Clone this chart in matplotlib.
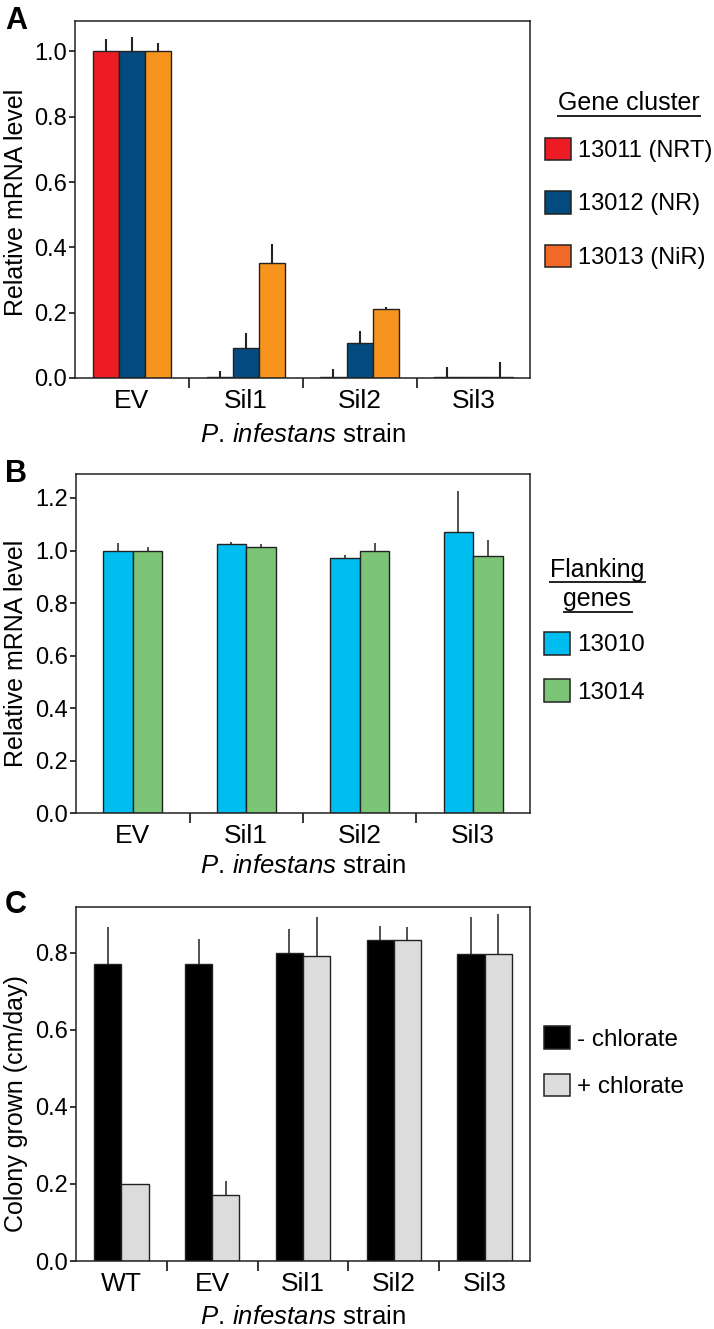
import matplotlib
matplotlib.use("Agg")
import matplotlib.pyplot as plt
import numpy as np
from matplotlib.patches import Patch
from matplotlib.lines import Line2D

plt.rcParams["font.family"] = ["Liberation Sans", "DejaVu Sans"]
plt.rcParams["mathtext.fontset"] = "custom"
plt.rcParams["mathtext.rm"] = "Liberation Sans"
plt.rcParams["mathtext.it"] = "Liberation Sans:italic"

# ---- data ----
strains_ab = ["EV", "Sil1", "Sil2", "Sil3"]
strains_c = ["WT", "EV", "Sil1", "Sil2", "Sil3"]

# panel A: gene cluster expression (value, upper error)
nrt = [1.0, 0.004, 0.004, 0.003]
nrt_err = [0.038, 0.018, 0.023, 0.032]
nr = [1.0, 0.091, 0.108, 0.002]
nr_err = [0.045, 0.046, 0.036, 0.0]
nir = [1.0, 0.353, 0.211, 0.003]
nir_err = [0.026, 0.056, 0.005, 0.045]
labels_a = ["13011 (NRT)", "13012 (NR)", "13013 (NiR)"]

# panel B: flanking genes
g13010 = [1.0, 1.025, 0.972, 1.071]
g13010_err = [0.028, 0.009, 0.010, 0.154]
g13014 = [1.0, 1.013, 0.999, 0.981]
g13014_err = [0.014, 0.010, 0.031, 0.060]
labels_b = ["13010", "13014"]

# panel C: colony growth
minus_chl = [0.770, 0.770, 0.799, 0.833, 0.796]
minus_chl_err = [0.096, 0.065, 0.062, 0.036, 0.096]
plus_chl = [0.199, 0.171, 0.791, 0.833, 0.798]
plus_chl_err = [0.0, 0.037, 0.103, 0.035, 0.102]
labels_c = ["- chlorate", "+ chlorate"]

EDGE = "#222222"
W, H = 714, 1329
fig = plt.figure(figsize=(W / 100, H / 100), dpi=100)


def px_axes(left, top, right, bottom):
    return fig.add_axes([left / W, 1 - bottom / H, (right - left) / W, (bottom - top) / H])


def style_axes(ax, labels, ylim, yticks, ylabel, ylabel_y):
    n = len(labels)
    ax.set_xlim(-0.5, n - 0.5)
    ax.set_ylim(*ylim)
    ax.set_xticks(range(n))
    ax.set_xticklabels(labels, fontsize=19)
    ax.set_xticks(np.arange(0.5, n - 1, 1), minor=True)
    ax.tick_params(axis="x", which="major", length=0, pad=8)
    ax.tick_params(axis="x", which="minor", length=7, width=1.1, direction="out")
    ax.set_yticks(yticks)
    ax.set_yticklabels([f"{v:.1f}" for v in yticks], fontsize=17)
    ax.tick_params(axis="y", length=4.5, width=1.1, pad=1.5, direction="out")
    for s in ax.spines.values():
        s.set_linewidth(1.1)
        s.set_color(EDGE)
    ax.set_ylabel(ylabel, fontsize=18)
    ax.yaxis.label.set_verticalalignment("center")
    left_px = ax.get_position().x0 * W
    width_px = ax.get_position().width * W
    ax.yaxis.set_label_coords((16 - left_px) / width_px, ylabel_y)
    ax.set_xlabel(r"$\mathit{P.\,infestans}$ strain", fontsize=18.5)
    ax.xaxis.label.set_verticalalignment("center")


def draw_bars(ax, series, errs, colors, width, elw):
    n = len(series)
    x = np.arange(len(series[0]))
    for i, (vals, err, col) in enumerate(zip(series, errs, colors)):
        pos = x + (i - (n - 1) / 2) * width
        ax.bar(pos, vals, width, color=col, edgecolor=EDGE, linewidth=1.0, zorder=2)
        ax.errorbar(pos, vals, yerr=[np.zeros(len(err)), err], fmt="none",
                    ecolor=EDGE, elinewidth=elw, capsize=0, zorder=1)


def add_legend(ax, colors, labels, left_px, top_px, fs, spacing):
    handles = [Patch(facecolor=c, edgecolor=EDGE, linewidth=1.1) for c in colors]
    fs_px = fs * 100 / 72
    leg = ax.legend(handles, labels, loc="upper left",
                    bbox_to_anchor=(left_px / W, 1 - top_px / H),
                    bbox_transform=fig.transFigure, frameon=False, fontsize=fs,
                    handlelength=26 / fs_px, handleheight=26 / fs_px,
                    handletextpad=0.3, labelspacing=spacing,
                    borderpad=0, borderaxespad=0)
    return leg


titles = []


def legend_title(text, xc, baseline, underline_y):
    t = fig.text(xc / W, 1 - baseline / H, text, ha="center", va="baseline", fontsize=18)
    titles.append((t, underline_y))


# ---- panel A ----
axA = px_axes(75, 21, 530.5, 378)
draw_bars(axA, [nrt, nr, nir], [nrt_err, nr_err, nir_err],
          ["#ED1C24", "#034B7F", "#F7941D"], 0.23, 1.5)
style_axes(axA, strains_ab, (0, 1.093), [0, 0.2, 0.4, 0.6, 0.8, 1.0],
           "Relative mRNA level", 0.492)
axA.xaxis.set_label_coords(0.5, -(435 - 378) / 357)
add_legend(axA, ["#ED1C24", "#034B7F", "#F26A2A"], labels_a, 545, 137.7, 17, 1.23)
legend_title("Gene cluster", 629, 110, 115.7)

# ---- panel B ----
axB = px_axes(76, 474.3, 530, 813.3)
draw_bars(axB, [g13010, g13014], [g13010_err, g13014_err],
          ["#00BDF0", "#7CC576"], 0.26, 1.1)
style_axes(axB, strains_ab, (0, 1.29), [0, 0.2, 0.4, 0.6, 0.8, 1.0, 1.2],
           "Relative mRNA level", 0.471)
axB.xaxis.set_label_coords(0.5, -(866 - 813.3) / 339)
add_legend(axB, ["#00BDF0", "#7CC576"], labels_b, 544, 631.7, 17.5, 0.94)
legend_title("Flanking", 597.5, 576.7, 582.3)
legend_title("genes", 597.5, 605.7, 612.3)

# ---- panel C ----
axC = px_axes(76, 906.7, 530, 1261)
draw_bars(axC, [minus_chl, plus_chl], [minus_chl_err, plus_chl_err],
          ["#000000", "#DCDCDC"], 0.30, 1.1)
style_axes(axC, strains_c, (0, 0.92), [0, 0.2, 0.4, 0.6, 0.8],
           "Colony grown (cm/day)", 0.443)
axC.xaxis.set_label_coords(0.5, -(1317 - 1261) / 354.3)
add_legend(axC, ["#000000", "#DCDCDC"], labels_c, 544, 1026, 17.5, 0.94)

# panel letters
for letter, base in [("A", 29), ("B", 481.7), ("C", 913)]:
    fig.text(5 / W, 1 - base / H, letter, fontsize=22, fontweight="bold", va="baseline")

# underline the legend titles
renderer = fig.canvas.get_renderer()
for t, uy in titles:
    bb = t.get_window_extent(renderer)
    fig.add_artist(Line2D([bb.x0 / W, bb.x1 / W], [1 - uy / H, 1 - uy / H],
                          transform=fig.transFigure, color=EDGE, linewidth=1.4))

fig.savefig("out.png", dpi=100)
